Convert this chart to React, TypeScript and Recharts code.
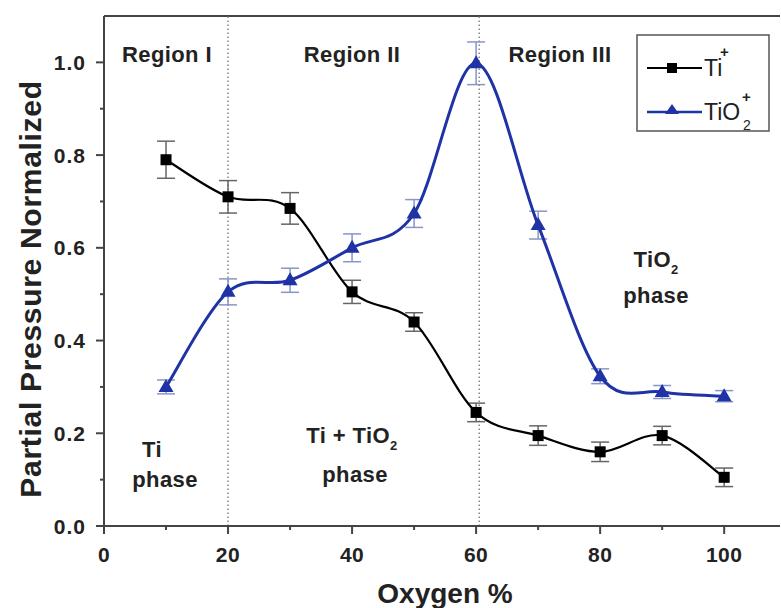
import React from 'react';
import { LineChart, Line, XAxis, YAxis, ErrorBar, ReferenceLine } from 'recharts';

const oxygen = [10, 20, 30, 40, 50, 60, 70, 80, 90, 100];
const ti = [0.79, 0.71, 0.685, 0.505, 0.44, 0.245, 0.195, 0.16, 0.195, 0.105];
const tiErr = [0.04, 0.035, 0.034, 0.025, 0.02, 0.02, 0.021, 0.021, 0.02, 0.02];
const tio2 = [0.30, 0.505, 0.53, 0.60, 0.674, 0.998, 0.649, 0.323, 0.289, 0.28];
const tio2Err = [0.015, 0.028, 0.026, 0.03, 0.03, 0.046, 0.03, 0.016, 0.014, 0.012];
const xTicks = [0, 10, 20, 30, 40, 50, 60, 70, 80, 90, 100];
const yTicks = [0, 0.1, 0.2, 0.3, 0.4, 0.5, 0.6, 0.7, 0.8, 0.9, 1.0];
const regionBounds = [20, 60.5];

const data = oxygen.map((o, i) => ({
  o,
  ti: ti[i],
  tiErr: tiErr[i],
  tio2: tio2[i],
  tio2Err: tio2Err[i],
}));

const FONT = 'Liberation Sans, Arial, Helvetica, sans-serif';
const BLUE = '#1f33a6';
const AXIS = '#444';

// Smooth Catmull-Rom style curve (d3 CurveFactory interface)
const smoothCurve: any = (context: any) => {
  let pts: [number, number][] = [];
  return {
    areaStart() {},
    areaEnd() {},
    lineStart() {
      pts = [];
    },
    lineEnd() {
      const n = pts.length;
      if (!n) return;
      context.moveTo(pts[0][0], pts[0][1]);
      for (let i = 0; i < n - 1; i++) {
        const p0 = pts[Math.max(i - 1, 0)];
        const p1 = pts[i];
        const p2 = pts[i + 1];
        const p3 = pts[Math.min(i + 2, n - 1)];
        context.bezierCurveTo(
          p1[0] + (p2[0] - p0[0]) / 6,
          p1[1] + (p2[1] - p0[1]) / 6,
          p2[0] - (p3[0] - p1[0]) / 6,
          p2[1] - (p3[1] - p1[1]) / 6,
          p2[0],
          p2[1]
        );
      }
    },
    point(x: number, y: number) {
      pts.push([+x, +y]);
    },
  };
};

const Square = (props: any) => {
  const { cx, cy } = props;
  if (cx == null || cy == null) return null;
  return <rect key={`sq-${props.index}`} x={cx - 5.5} y={cy - 5.5} width={11} height={11} fill="#000" />;
};

const Triangle = (props: any) => {
  const { cx, cy } = props;
  if (cx == null || cy == null) return null;
  return (
    <path
      key={`tr-${props.index}`}
      d={`M${cx},${cy - 8} L${cx + 7.5},${cy + 5} L${cx - 7.5},${cy + 5} Z`}
      fill={BLUE}
    />
  );
};

const XTick = (props: any) => {
  const { x, y, payload } = props;
  const major = payload.value % 20 === 0;
  return (
    <g>
      <line x1={x} y1={y} x2={x} y2={y + (major ? 8 : 4)} stroke={AXIS} strokeWidth={2} />
      {major && (
        <text x={x} y={y + 36} textAnchor="middle" fontFamily={FONT} fontWeight="bold" fontSize={21} letterSpacing={0.5} fill="#222">
          {payload.value}
        </text>
      )}
    </g>
  );
};

const YTick = (props: any) => {
  const { x, y, payload } = props;
  const v = Math.round(payload.value * 10);
  const major = v % 2 === 0;
  return (
    <g>
      <line x1={x} y1={y} x2={x - (major ? 8 : 4)} y2={y} stroke={AXIS} strokeWidth={2} />
      {major && (
        <text x={x - 18} y={y + 7.5} textAnchor="end" fontFamily={FONT} fontWeight="bold" fontSize={21} letterSpacing={1} fill="#222">
          {payload.value.toFixed(1)}
        </text>
      )}
    </g>
  );
};

const txt = { fontFamily: FONT, fontWeight: 'bold' as const, fontSize: 22, letterSpacing: 0.4, fill: '#222' };

export default function App() {
  return (
    <div style={{ position: 'absolute', left: 0, top: 0, width: 781, height: 608, background: '#fff' }}>
      <LineChart
        width={781}
        height={608}
        data={data}
        margin={{ top: 16, right: 1, bottom: 0, left: 0 }}
      >
        <XAxis
          dataKey="o"
          type="number"
          domain={[0, 109]}
          ticks={xTicks}
          interval={0}
          height={82}
          tickSize={0}
          tickMargin={0}
          tickLine={false}
          axisLine={{ stroke: AXIS, strokeWidth: 2 }}
          tick={<XTick />}
        />
        <YAxis
          type="number"
          domain={[0, 1.1]}
          ticks={yTicks}
          interval={0}
          width={104}
          tickSize={0}
          tickMargin={0}
          tickLine={false}
          axisLine={{ stroke: AXIS, strokeWidth: 2 }}
          tick={<YTick />}
        />
        <ReferenceLine y={1.1} stroke={AXIS} strokeWidth={2} />
        {regionBounds.map((b) => (
          <ReferenceLine key={b} x={b} stroke="#888" strokeWidth={1.5} strokeDasharray="1.5 2.5" />
        ))}
        <Line
          dataKey="ti"
          type={smoothCurve}
          stroke="#000"
          strokeWidth={2.2}
          isAnimationActive={false}
          dot={(p: any) => <Square {...p} />}
          activeDot={false}
        >
          <ErrorBar dataKey="tiErr" direction="y" width={9} stroke="#666" strokeWidth={1.5} />
        </Line>
        <Line
          dataKey="tio2"
          type={smoothCurve}
          stroke={BLUE}
          strokeWidth={3}
          isAnimationActive={false}
          dot={(p: any) => <Triangle {...p} />}
          activeDot={false}
        >
          <ErrorBar dataKey="tio2Err" direction="y" width={9} stroke="#8895c8" strokeWidth={1.5} />
        </Line>

        {/* region labels */}
        <text x={167} y={62} textAnchor="middle" {...txt}>Region I</text>
        <text x={352} y={62} textAnchor="middle" {...txt}>Region II</text>
        <text x={560} y={62} textAnchor="middle" {...txt}>Region III</text>

        <text x={152} y={457} textAnchor="middle" {...txt}>Ti</text>
        <text x={165} y={487} textAnchor="middle" {...txt}>phase</text>

        <text x={352} y={443} textAnchor="middle" {...txt}>
          Ti + TiO<tspan fontSize={13} dy={7}>2</tspan>
        </text>
        <text x={355} y={482} textAnchor="middle" {...txt}>phase</text>

        <text x={656} y={267} textAnchor="middle" {...txt}>
          TiO<tspan fontSize={13} dy={7}>2</tspan>
        </text>
        <text x={656} y={303} textAnchor="middle" {...txt}>phase</text>

        {/* legend */}
        <rect x={637} y={35} width={132} height={96} fill="#fff" stroke="#555" strokeWidth={1.5} />
        <line x1={647} y1={68} x2={702} y2={68} stroke="#000" strokeWidth={2.2} />
        <rect x={667} y={63} width={10} height={10} fill="#000" />
        <text x={704} y={76} fontFamily={FONT} fontSize={23} fill="#222">Ti</text>
        <text x={720} y={57} fontFamily={FONT} fontWeight="bold" fontSize={15} fill="#222">+</text>
        <line x1={647} y1={112} x2={702} y2={112} stroke={BLUE} strokeWidth={2.5} />
        <path d="M672,104 L679,114 L665,114 Z" fill={BLUE} />
        <text x={704} y={120} fontFamily={FONT} fontSize={23} fill="#222">TiO</text>
        <text x={743} y={130} fontFamily={FONT} fontSize={14} fill="#222">2</text>
        <text x={742} y={102} fontFamily={FONT} fontWeight="bold" fontSize={15} fill="#222">+</text>

        {/* axis titles */}
        <text
          x={30}
          y={289}
          transform="rotate(-90 30 289)"
          textAnchor="middle"
          dominantBaseline="central"
          fontFamily={FONT}
          fontWeight="bold"
          fontSize={30}
          letterSpacing={0.7}
          fill="#222"
        >
          Partial Pressure Normalized
        </text>
        <text x={445} y={603} textAnchor="middle" fontFamily={FONT} fontWeight="bold" fontSize={28} fill="#222">
          Oxygen %
        </text>
      </LineChart>
    </div>
  );
}
